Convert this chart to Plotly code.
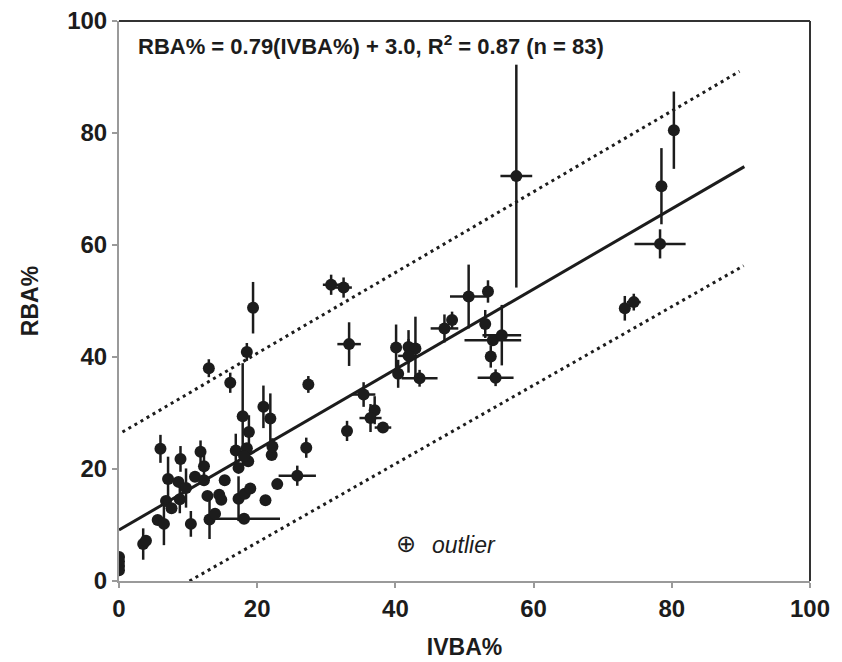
import plotly.graph_objects as go

# IVBA% (x) and RBA% (y) with error half-widths
ivba = [0, 0, 0, 0, 3.5, 3.9, 6.0, 5.6, 6.5, 6.8, 7.6, 7.1, 8.9, 8.6, 8.8, 9.7,
        10.4, 11.0, 11.8, 12.3, 12.3, 13.0, 13.1, 13.9, 14.5, 14.8, 15.3, 16.1,
        18.5, 19.4, 17.9, 18.1, 18.8, 16.9, 18.5, 18.7, 17.3, 17.3, 18.2, 19.0,
        20.9, 21.9, 22.1, 22.2, 22.9, 21.2, 25.8, 27.1, 27.4, 30.7, 32.5, 33.3,
        33.0, 35.4, 37.0, 36.4, 38.2, 40.1, 41.9, 42.9, 41.9, 40.4, 43.5, 47.1,
        48.2, 50.6, 53.4, 53.0, 54.1, 55.4, 53.8, 54.5, 57.5, 78.5, 80.3, 78.3,
        73.2, 74.5, 18.1, 12.8]
rba = [4.3, 3.5, 2.7, 1.9, 6.6, 7.2, 23.6, 10.9, 10.2, 14.3, 13.0, 18.2, 21.8,
       17.7, 14.6, 16.6, 10.2, 18.6, 23.1, 20.5, 18.0, 38.0, 11.0, 12.0, 15.4,
       14.5, 18.0, 35.4, 40.9, 48.8, 29.4, 11.1, 26.6, 23.3, 23.7, 21.4, 20.2,
       14.7, 15.6, 16.5, 31.1, 29.0, 22.5, 24.0, 17.3, 14.4, 18.8, 23.8, 35.1,
       52.9, 52.4, 42.3, 26.8, 33.3, 30.5, 29.1, 27.4, 41.7, 41.8, 41.5, 40.2,
       37.0, 36.2, 45.1, 46.6, 50.8, 51.7, 45.9, 43.0, 43.9, 40.1, 36.3, 72.3,
       70.5, 80.5, 60.2, 48.7, 49.8, 22.3, 15.2]
ivba_err = [0, 0, 0, 0, 0, 0, 0, 0, 0, 0, 0, 0, 0, 0, 0, 0,
            0, 0, 0, 0, 0, 0, 0, 0, 0, 0, 0, 0,
            0, 0, 0, 5.2, 0, 0, 0, 0, 0, 0, 0, 0,
            0, 0, 0, 0, 0, 0, 2.7, 0, 0, 1.2, 1.2, 1.7,
            0, 1.7, 0, 1.6, 1.2, 0, 0, 0, 1.5, 0, 2.6, 2.0,
            0, 2.7, 0, 0, 4.1, 2.8, 0, 2.6, 2.3, 0, 0, 3.7,
            0, 1.0, 0, 0]
rba_err = [0, 0, 0, 0, 2.8, 0, 2.5, 0, 3.8, 0, 0, 4.0, 2.3, 0, 2.5, 3.5,
           2.3, 0, 2.0, 2.0, 0, 1.6, 3.5, 0, 0, 0, 0, 1.8,
           1.6, 4.6, 9.5, 0, 3.0, 3.0, 0, 0, 0, 4.0, 0, 0,
           3.8, 4.5, 0, 1.5, 0, 0, 1.8, 1.8, 1.5, 1.8, 1.8, 3.9,
           1.8, 2.2, 2.5, 2.5, 0, 4.1, 3.0, 5.7, 3.0, 2.5, 1.5, 2.5,
           1.5, 5.7, 2.0, 2.5, 0, 5.4, 2.0, 1.5, 19.9, 6.8, 6.9, 2.6,
           2.2, 1.5, 0, 0]

# regression line and its prediction band (end points)
fit_x = [0, 90.5]
fit_y = [9.1, 74.0]
upper_x = [0.5, 89.8]
upper_y = [26.6, 91.0]
lower_x = [10.2, 90.4]
lower_y = [0, 56.3]

ticks = [0, 20, 40, 60, 80, 100]

DARK = "#1c1c1c"
FONT = "Liberation Sans, Arial, sans-serif"

fig = go.Figure()

fig.add_trace(go.Scatter(x=upper_x, y=upper_y, mode="lines",
                         line=dict(color=DARK, width=3, dash="3px,4px")))
fig.add_trace(go.Scatter(x=lower_x, y=lower_y, mode="lines",
                         line=dict(color=DARK, width=3, dash="3px,4px")))
fig.add_trace(go.Scatter(x=fit_x, y=fit_y, mode="lines",
                         line=dict(color=DARK, width=3)))

fig.add_trace(go.Scatter(
    x=ivba, y=rba, mode="markers",
    marker=dict(size=12, color=DARK),
    error_x=dict(type="data", array=ivba_err, visible=True,
                 color=DARK, thickness=2.5, width=0),
    error_y=dict(type="data", array=rba_err, visible=True,
                 color=DARK, thickness=2.5, width=0),
))

# top and right frame
fig.add_shape(type="line", xref="x domain", yref="y domain",
              x0=0, x1=1, y0=1, y1=1, line=dict(color="#333", width=2))
fig.add_shape(type="line", xref="x domain", yref="y domain",
              x0=1, x1=1, y0=0, y1=1, line=dict(color="#333", width=2))

fig.add_annotation(
    x=0.025, y=0.985, xref="x domain", yref="y domain",
    xanchor="left", yanchor="top", showarrow=False,
    text="RBA% = 0.79(IVBA%) + 3.0, R<sup>2</sup> = 0.87 (n = 83)",
    font=dict(family=FONT, size=22, color=DARK, weight="bold"),
)
fig.add_annotation(
    x=41.6, y=6.6, xanchor="center", yanchor="middle", showarrow=False,
    text="⊕", font=dict(family="DejaVu Sans", size=24, color=DARK),
)
fig.add_annotation(
    x=45.0, y=6.4, xanchor="left", yanchor="middle", showarrow=False,
    text="outlier", font=dict(family=FONT, size=23, color=DARK, style="italic"),
)

axis_common = dict(
    range=[0, 100], tickvals=ticks, showgrid=False, zeroline=False,
    showline=True, linecolor="#9a9a9a", linewidth=2, automargin=False,
    ticks="outside", ticklen=5, tickcolor="#9a9a9a", tickwidth=2,
    ticklabeloverflow="allow",
    tickfont=dict(family=FONT, size=24, color=DARK, weight="bold"),
)

# page body adds an 8px margin, so the figure is sized to fit inside the window
fig.update_layout(
    width=834, height=654, autosize=False,
    margin=dict(l=111, r=32, t=13, b=81),
    plot_bgcolor="white", paper_bgcolor="white",
    showlegend=False,
    xaxis=dict(**axis_common,
               title=dict(text="IVBA%", standoff=18,
                          font=dict(family=FONT, size=23, color=DARK, weight="bold"))),
    yaxis=dict(**axis_common,
               title=dict(text="RBA%", standoff=22,
                          font=dict(family=FONT, size=23, color=DARK, weight="bold"))),
)

fig.write_html("out.html")
